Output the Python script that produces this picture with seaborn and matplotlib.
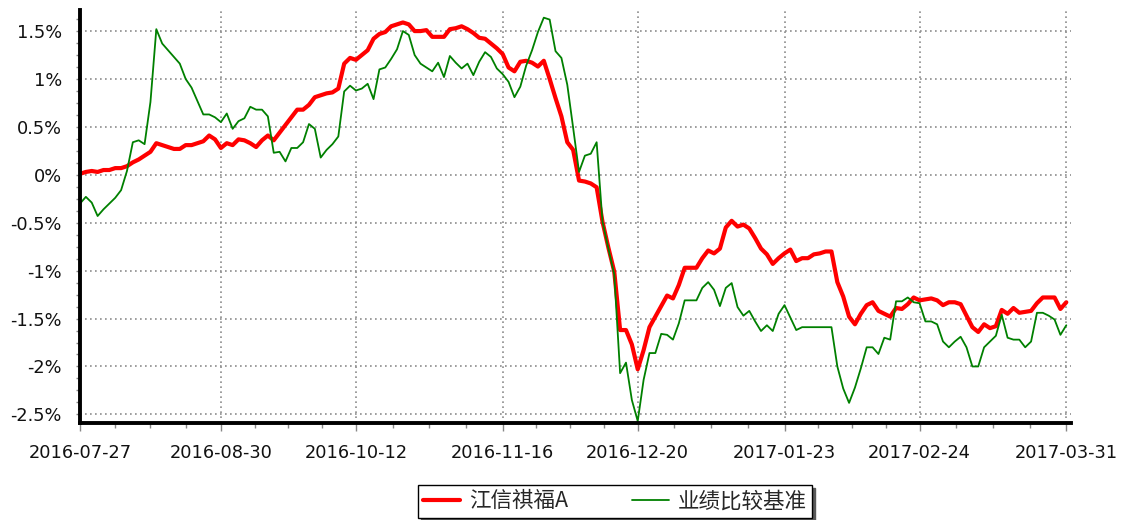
import numpy as np
import matplotlib
matplotlib.use("Agg")
import matplotlib.pyplot as plt
import seaborn as sns
from matplotlib.lines import Line2D

# trading-day index of each labelled date
tick_dates = ["2016-07-27", "2016-08-30", "2016-10-12", "2016-11-16",
              "2016-12-20", "2017-01-23", "2017-02-24", "2017-03-31"]
tick_days = [0, 24, 47, 72, 95, 120, 143, 168]

fund_name = "江信祺福A"
bench_name = "业绩比较基准"

# cumulative return (%), one value per trading day
fund = [
    0.01, 0.03, 0.04, 0.03, 0.05, 0.05, 0.07, 0.07, 0.09, 0.13,
    0.16, 0.20, 0.24, 0.33, 0.31, 0.29, 0.27, 0.27, 0.31, 0.31,
    0.33, 0.35, 0.41, 0.37, 0.28, 0.33, 0.31, 0.37, 0.36, 0.33,
    0.29, 0.36, 0.41, 0.36, 0.44, 0.52, 0.60,
    0.68, 0.68, 0.73, 0.81, 0.83, 0.85, 0.86, 0.90, 1.16, 1.22,
    1.20, 1.25, 1.30, 1.42, 1.47, 1.49, 1.55, 1.57, 1.59, 1.57,
    1.50, 1.50, 1.51, 1.44, 1.44, 1.44, 1.52, 1.53, 1.55, 1.52,
    1.48, 1.43, 1.42, 1.37, 1.32, 1.26,
    1.12, 1.08, 1.18, 1.19, 1.17, 1.13, 1.19, 1.00, 0.80, 0.61,
    0.34, 0.26, -0.06, -0.07, -0.09, -0.13, -0.49, -0.76, -1.01, -1.62,
    -1.62, -1.77, -2.03,
    -1.83, -1.59, -1.48, -1.37, -1.26, -1.29, -1.15, -0.97, -0.97, -0.97,
    -0.87, -0.79, -0.82, -0.77, -0.55, -0.48, -0.54, -0.52, -0.56, -0.66,
    -0.77, -0.83, -0.93, -0.87, -0.82, -0.78, -0.90, -0.87, -0.87, -0.83,
    -0.82, -0.80, -0.80, -1.12, -1.27, -1.48, -1.56, -1.45,
    -1.36, -1.33, -1.42, -1.45, -1.48, -1.39, -1.40, -1.35, -1.28, -1.31,
    -1.30, -1.29, -1.31, -1.36, -1.33, -1.33, -1.35, -1.47, -1.59, -1.64,
    -1.56, -1.60, -1.58, -1.41, -1.45, -1.39, -1.44, -1.43, -1.42, -1.34,
    -1.28, -1.28, -1.28, -1.40, -1.33,
]

bench = [
    -0.30, -0.23, -0.29, -0.43, -0.36, -0.30, -0.24, -0.16, 0.04, 0.34,
    0.36, 0.32, 0.76, 1.52, 1.37, 1.30, 1.23, 1.16, 1.00, 0.91,
    0.77, 0.63, 0.63, 0.60, 0.55, 0.64, 0.48, 0.56, 0.59, 0.71,
    0.68, 0.68, 0.61, 0.23, 0.24, 0.14, 0.28,
    0.28, 0.34, 0.53, 0.48, 0.18, 0.26, 0.32, 0.40, 0.87, 0.93,
    0.88, 0.90, 0.95, 0.79, 1.10, 1.12, 1.21, 1.31, 1.50, 1.46,
    1.25, 1.16, 1.12, 1.08, 1.17, 1.02, 1.24, 1.17, 1.11, 1.16,
    1.04, 1.18, 1.28, 1.23, 1.11, 1.05,
    0.97, 0.81, 0.92, 1.14, 1.30, 1.49, 1.64, 1.62, 1.29, 1.22,
    0.94, 0.49, 0.03, 0.20, 0.22, 0.34, -0.49, -0.77, -1.04, -2.07,
    -1.96, -2.35, -2.57,
    -2.14, -1.86, -1.86, -1.66, -1.67, -1.72, -1.55, -1.31, -1.31, -1.31,
    -1.18, -1.12, -1.20, -1.37, -1.18, -1.13, -1.38, -1.47, -1.42, -1.53,
    -1.63, -1.57, -1.63, -1.45, -1.36, -1.49, -1.62, -1.59, -1.59, -1.59,
    -1.59, -1.59, -1.59, -2.00, -2.23, -2.38, -2.22, -2.02,
    -1.80, -1.80, -1.87, -1.70, -1.72, -1.32, -1.32, -1.28, -1.33, -1.34,
    -1.53, -1.53, -1.56, -1.74, -1.80, -1.74, -1.69, -1.80, -2.00, -2.00,
    -1.80, -1.74, -1.68, -1.46, -1.70, -1.72, -1.72, -1.80, -1.74, -1.44,
    -1.44, -1.47, -1.51, -1.67, -1.57,
]

y_ticks = [-2.5, -2.0, -1.5, -1.0, -0.5, 0.0, 0.5, 1.0, 1.5]

sns.set_style("white")
plt.rcParams["font.family"] = ["DejaVu Sans", "Noto Sans CJK SC"]

fig = plt.figure(figsize=(11.23, 5.2), dpi=100)
ax = fig.add_axes([80 / 1123, 97 / 520, 991 / 1123, 413 / 520])

days = np.arange(len(fund))
sns.lineplot(x=days, y=fund, color="#ff0000", linewidth=3.0, ax=ax)
sns.lineplot(x=days, y=bench, color="#008000", linewidth=1.3, ax=ax)

ax.set_xlim(0, 168.8)
ax.set_ylim(-2.59, 1.72)

ax.set_xticks(tick_days)
ax.set_xticklabels(tick_dates)
minor_x = []
for a, b in zip(tick_days[:-1], tick_days[1:]):
    minor_x += [a + (b - a) * k / 4 for k in (1, 2, 3)]
ax.set_xticks(minor_x, minor=True)

ax.set_yticks(y_ticks)
ax.set_yticklabels([f"{v:g}%" for v in y_ticks])
ax.set_yticks(np.arange(-2.5, 1.72, 0.125), minor=True)

ax.tick_params(axis="x", which="major", length=6, width=1, color="#888888",
               pad=9, labelsize=12.8, labelcolor="#111111")
ax.tick_params(axis="x", which="minor", length=3.5, width=1, color="#888888")
ax.tick_params(axis="y", which="both", length=3, width=1, color="#888888",
               pad=10, labelsize=12.8, labelcolor="#111111")
ax.tick_params(bottom=True, left=True, which="both")

ax.grid(True, which="major", linestyle=(0, (1, 2)), color="#8c8c8c", linewidth=1.2)
ax.set_xlabel("")
ax.set_ylabel("")

for side in ("top", "right"):
    ax.spines[side].set_visible(False)
for side in ("left", "bottom"):
    ax.spines[side].set_color("black")
    ax.spines[side].set_linewidth(2.8)

handles = [Line2D([], [], color="#ff0000", linewidth=3.0),
           Line2D([], [], color="#008000", linewidth=1.3)]
leg = fig.legend(handles, [fund_name, bench_name], loc="upper center",
                 bbox_to_anchor=(615 / 1123, 1 - 485 / 520), ncol=2,
                 frameon=True, fancybox=False, edgecolor="black",
                 shadow={"color": "0.35", "alpha": 1},
                 handlelength=1.7, handletextpad=0.4, columnspacing=3.0,
                 borderpad=0.25, borderaxespad=0,
                 prop={"family": ["Noto Sans CJK SC", "DejaVu Sans"], "size": 15.5})
leg.get_frame().set_linewidth(1.0)

fig.savefig("out.png", dpi=100)
